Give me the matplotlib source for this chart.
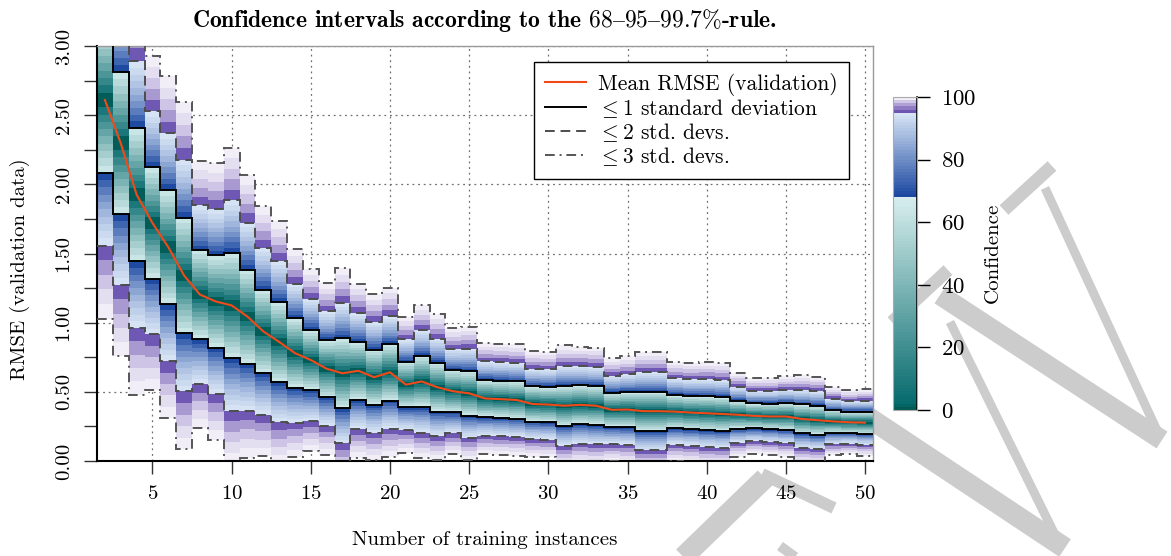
import math
import numpy as np
import matplotlib
matplotlib.use("Agg")
import matplotlib.pyplot as plt
from matplotlib.colors import LinearSegmentedColormap, ListedColormap, Normalize
from matplotlib.cm import ScalarMappable
from matplotlib.lines import Line2D
from matplotlib.ticker import MultipleLocator, FormatStrFormatter

# data
n_train = np.arange(2, 51)
rmse_mean = np.array([2.61, 2.297, 1.926, 1.721, 1.546, 1.341, 1.203, 1.153, 1.125, 1.044,
                      0.937, 0.861, 0.780, 0.730, 0.667, 0.634, 0.652, 0.606, 0.641, 0.552,
                      0.575, 0.533, 0.504, 0.489, 0.452, 0.447, 0.441, 0.412, 0.408, 0.400,
                      0.406, 0.400, 0.370, 0.372, 0.360, 0.360, 0.357, 0.350, 0.345, 0.340,
                      0.334, 0.326, 0.322, 0.322, 0.304, 0.295, 0.286, 0.280, 0.277])
rmse_std = np.array([0.527, 0.513, 0.482, 0.403, 0.412, 0.419, 0.322, 0.333, 0.380, 0.340,
                     0.301, 0.291, 0.251, 0.220, 0.207, 0.253, 0.210, 0.200, 0.204, 0.164,
                     0.185, 0.176, 0.152, 0.161, 0.134, 0.134, 0.134, 0.127, 0.127, 0.145,
                     0.140, 0.140, 0.124, 0.128, 0.142, 0.142, 0.120, 0.120, 0.123, 0.123,
                     0.101, 0.091, 0.093, 0.097, 0.105, 0.105, 0.082, 0.077, 0.080])
x_ticks = [5, 10, 15, 20, 25, 30, 35, 40, 45, 50]
cbar_ticks = [0, 20, 40, 60, 80, 100]

W, H = 1171, 556

plt.rcParams['font.family'] = ['cmr10', 'DejaVu Serif']
plt.rcParams['mathtext.fontset'] = 'cm'
plt.rcParams['axes.formatter.use_mathtext'] = True
plt.rcParams['axes.unicode_minus'] = False

# confidence colour map: teal (<=1 sd), blue (<=2 sd), purple (<=3 sd)
c1 = math.erf(1 / math.sqrt(2)) * 100
c2 = math.erf(2 / math.sqrt(2)) * 100
c3 = math.erf(3 / math.sqrt(2)) * 100
conf_nodes = [(0, '#00554c'), (2, '#066a6d'), (c1, '#d9eeee'),
              (c1, '#1a47a0'), (c2, '#dde9f8'),
              (c2, '#6a52b0'), (99.5, '#f1edf8'), (c3, '#fcfbfe'), (100, '#ffffff')]
cmap = LinearSegmentedColormap.from_list('conf', [(v / 100, c) for v, c in conf_nodes], N=2048)
cmap_bar = ListedColormap(cmap(np.linspace(0.005, 0.995, 100)))

fig = plt.figure(figsize=(W / 100, H / 100), dpi=100)

# watermark strokes (figure pixels, y down)
wm_strokes = [(1004, 210, 1052, 166, 13), (1045, 188, 1160, 437, 9), (940, 295, 1162, 440, 20),
              (892, 322, 948, 270, 13), (950, 322, 1060, 545, 9), (800, 372, 1065, 548, 21),
              (672, 568, 765, 478, 21), (762, 474, 834, 508, 12), (780, 546, 802, 562, 10)]
for x0, y0, x1, y1, w in wm_strokes:
    fig.add_artist(Line2D([x0 / W, x1 / W], [1 - y0 / H, 1 - y1 / H], transform=fig.transFigure,
                          color='#cccccc', lw=w * 0.72, solid_capstyle='butt', zorder=-5))

ax = fig.add_axes([97 / W, 1 - 461 / H, 776 / W, 415 / H])
ax.set_axisbelow(True)

# colored cells: 10 per sd for the first two bands, 5 for the third
z_edges = np.concatenate([np.arange(0, 2.0, 0.1), np.arange(2.0, 3.001, 0.2)])
for z_lo, z_hi in zip(z_edges[:-1], z_edges[1:]):
    conf = math.erf((z_lo + 0.01) / math.sqrt(2)) * 100
    col = cmap(conf / 100)
    h = (z_hi - z_lo) * rmse_std
    ax.bar(n_train, h, bottom=rmse_mean + z_lo * rmse_std, width=1.0, color=col,
           linewidth=0, antialiased=False, zorder=1)
    ax.bar(n_train, h, bottom=rmse_mean - z_hi * rmse_std, width=1.0, color=col,
           linewidth=0, antialiased=False, zorder=1)

edges = np.arange(1.5, 51.5, 1.0)
dash2 = (0, (5, 3))
dash3 = (0, (5, 2.5, 1, 2.5))
for k, ls, c in [(1, '-', 'black'), (2, dash2, '#4d4d4d'), (3, dash3, '#555555')]:
    for s in (1, -1):
        ax.stairs(rmse_mean + s * k * rmse_std, edges, baseline=None, color=c,
                  linestyle=ls, lw=1.4, zorder=3)
ax.plot(n_train, rmse_mean, color='#f04a1a', lw=1.5, zorder=4)

ax.set_xlim(1.5, 50.5)
ax.set_ylim(0, 3)
ax.set_xticks(x_ticks)
ax.yaxis.set_major_locator(MultipleLocator(0.5))
ax.yaxis.set_minor_locator(MultipleLocator(0.25))
ax.yaxis.set_major_formatter(FormatStrFormatter('%.2f'))
ax.grid(True, which='major', color='#707070', lw=0.9, ls=(0, (1.5, 3)))
ax.tick_params(axis='both', which='both', direction='out', length=9.5, width=1.0,
               color='#333333', labelsize=15)
ax.tick_params(axis='x', pad=8)
ax.tick_params(axis='y', labelrotation=90, pad=8)
for lab in ax.get_yticklabels():
    lab.set_va('center')
for side in ('left', 'bottom'):
    ax.spines[side].set_color('black')
    ax.spines[side].set_linewidth(1.5)
for side in ('top', 'right'):
    ax.spines[side].set_color('#999999')
    ax.spines[side].set_linewidth(1.0)

handles = [Line2D([], [], color='#f04a1a', lw=1.5),
           Line2D([], [], color='black', lw=1.4),
           Line2D([], [], color='#4d4d4d', lw=1.4, ls=dash2),
           Line2D([], [], color='#555555', lw=1.4, ls=dash3)]
labels = ['Mean RMSE (validation)', r'$\leq$1 standard deviation',
          r'$\leq$2 std. devs.', r'$\leq$3 std. devs.']
leg = ax.legend(handles, labels, loc='upper right', bbox_to_anchor=(0.969, 0.961),
                borderaxespad=0, fontsize=15.5, fancybox=False, framealpha=1,
                edgecolor='black', handlelength=1.9, handletextpad=0.6,
                labelspacing=0.05, borderpad=0.5)
leg.get_frame().set_linewidth(1.0)

# colorbar
cax = fig.add_axes([893 / W, 1 - 410 / H, 24 / W, 313 / H])
sm = ScalarMappable(norm=Normalize(0, 100), cmap=cmap_bar)
cb = fig.colorbar(sm, cax=cax, ticks=cbar_ticks)
cb.outline.set_edgecolor('#aaaaaa')
cb.outline.set_linewidth(0.8)
cax.plot([1, 1], [0, 1], transform=cax.transAxes, color='black', lw=1.2, clip_on=False)
cax.tick_params(direction='out', length=9.5, width=1.0, labelsize=16.5, pad=8)

fig.text(484.5 / W, 1 - 20 / H, r'Confidence intervals according to the $68–95–99.7\%$-rule.',
         ha='center', va='center', fontsize=17, fontweight='bold',
         family=['cmb10', 'DejaVu Serif'])
fig.text(484.5 / W, 1 - 540 / H, 'Number of training instances', ha='center', va='center', fontsize=15)
fig.text(20 / W, 1 - 269 / H, 'RMSE (validation data)', ha='center', va='center',
         rotation=90, fontsize=15)
fig.text(993 / W, 1 - 253 / H, 'Confidence', ha='center', va='center', rotation=90, fontsize=15)

fig.savefig('out.png', dpi=100)
